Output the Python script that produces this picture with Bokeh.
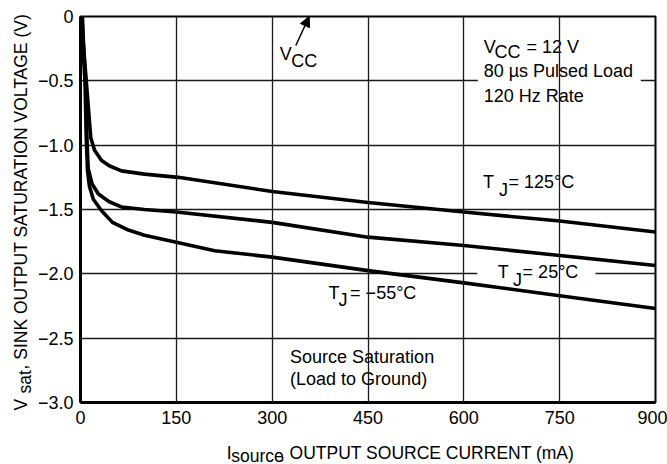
import math
from bokeh.plotting import figure
from bokeh.layouts import row, column
from bokeh.models import Range1d, Label, FixedTicker, Arrow, NormalHead, BoxAnnotation
from bokeh.embed import file_html
from bokeh.resources import INLINE

# ---- data ----
i_125 = [3, 5, 9, 16, 22, 33, 45, 64, 100, 153, 300, 450, 600, 750, 900]
v_125 = [0.0, -0.25, -0.5, -0.94, -1.04, -1.12, -1.16, -1.2, -1.225, -1.25, -1.36, -1.445, -1.52, -1.59, -1.675]

i_25 = [2, 5, 8, 10, 12, 18, 28, 45, 64, 100, 150, 300, 450, 600, 750, 900]
v_25 = [0.0, -0.25, -0.5, -0.94, -1.18, -1.3, -1.38, -1.44, -1.48, -1.5, -1.52, -1.6, -1.715, -1.78, -1.857, -1.935]

i_m55 = [1, 4, 7, 9, 11, 14, 20, 33, 50, 75, 100, 150, 210, 300, 450, 600, 750, 900]
v_m55 = [0.0, -0.25, -0.5, -0.94, -1.2, -1.32, -1.42, -1.51, -1.6, -1.66, -1.7, -1.755, -1.82, -1.87, -1.975, -2.07, -2.17, -2.27]

x_ticks = [0, 150, 300, 450, 600, 750, 900]
y_ticks = [0, -0.5, -1.0, -1.5, -2.0, -2.5, -3.0]
y_tick_labels = ["0", "\u22120.5", "\u22121.0", "\u22121.5", "\u22122.0", "\u22122.5", "\u22123.0"]

FONT = "Liberation Sans"
FS = "18px"
FS_T = "17.5px"

YT_W = 34      # width of the y-title strip
XT_H = 24      # height of the x-title strip
DY = 0.05      # lift of in-plot labels (data units)

# ---------------- main chart ----------------
p = figure(width=667 - YT_W, height=464 - XT_H, x_range=Range1d(0, 900), y_range=Range1d(-3, 0),
           output_backend="svg", toolbar_location=None, title=None,
           min_border_left=79 - YT_W, min_border_right=12, min_border_top=16,
           min_border_bottom=38)
p.background_fill_color = "white"
p.border_fill_color = "white"
p.outline_line_color = "black"
p.outline_line_width = 2

for ax in (p.xaxis, p.yaxis):
    ax.axis_line_width = 3
    ax.axis_line_color = "black"
    ax.major_tick_in = 0
    ax.major_tick_out = 0
    ax.minor_tick_in = 0
    ax.minor_tick_out = 0
    ax.major_label_text_font = FONT
    ax.major_label_text_font_size = FS
    ax.major_label_text_color = "black"
p.xaxis.major_label_standoff = 8
p.yaxis.major_label_standoff = 7

p.xaxis.ticker = FixedTicker(ticks=x_ticks)
p.yaxis.ticker = FixedTicker(ticks=y_ticks)
p.yaxis.major_label_overrides = {t: l for t, l in zip(y_ticks, y_tick_labels)}

p.xgrid.ticker = FixedTicker(ticks=x_ticks)
p.ygrid.ticker = FixedTicker(ticks=y_ticks)
for g in (p.xgrid, p.ygrid):
    g.grid_line_color = "#1a1a1a"
    g.grid_line_width = 1.3
    g.grid_line_alpha = 1
p.xgrid.level = "overlay"

# white boxes that interrupt horizontal grid lines behind text
p.add_layout(BoxAnnotation(left=622, right=877, top=-0.13, bottom=-0.715,
                           fill_color="white", fill_alpha=1, line_color=None, level="underlay"))
p.add_layout(BoxAnnotation(left=621, right=806, top=-1.9, bottom=-2.15,
                           fill_color="white", fill_alpha=1, line_color=None, level="underlay"))

for xs, ys in ((i_125, v_125), (i_25, v_25), (i_m55, v_m55)):
    p.line(xs, ys, line_width=3.6, line_color="black", line_join="round")


def lab(fig, x, y, t, align="left", angle=0, size=FS):
    fig.add_layout(Label(x=x, y=y, text=t, text_font=FONT, text_font_size=size,
                         text_color="black", text_align=align, text_baseline="alphabetic",
                         angle=angle))


def plab(x, y, t):
    lab(p, x, y + DY, t)


# VCC arrow
p.add_layout(Arrow(end=NormalHead(size=10, fill_color="black", line_color="black"),
                   x_start=337, y_start=-0.225, x_end=358, y_end=0.0,
                   line_width=1.5, line_color="black"))
plab(312, -0.342, "V")
plab(330, -0.396, "CC")

# conditions block
plab(631, -0.288, "V")
plab(648, -0.326, "CC")
plab(698, -0.288, "= 12 V")
plab(631, -0.474, "80 \u00b5s Pulsed Load")
plab(631, -0.668, "120 Hz Rate")

# temperature labels
plab(630, -1.337, "T")
plab(655, -1.40, "J")
plab(670, -1.337, "= 125\u00b0C")

plab(653, -2.036, "T")
plab(677, -2.10, "J")
plab(692, -2.036, "= 25\u00b0C")

plab(388, -2.2, "T")
plab(404, -2.25, "J")
plab(422, -2.2, "= \u221255\u00b0C")

plab(328, -2.697, "Source Saturation")
plab(328, -2.868, "(Load to Ground)")


# ---------------- axis title strips (pixel coordinates) ----------------
def strip(w, h):
    f = figure(width=w, height=h, x_range=Range1d(0, w), y_range=Range1d(0, h),
               x_axis_type=None, y_axis_type=None, output_backend="svg",
               toolbar_location=None, title=None, min_border=0,
               min_border_left=0, min_border_right=0, min_border_top=0, min_border_bottom=0)
    f.outline_line_color = None
    f.background_fill_color = "white"
    f.border_fill_color = "white"
    f.grid.visible = False
    return f


xt = strip(667 - YT_W, XT_H)
lab(xt, 161, 12, "I", size=FS_T)
lab(xt, 166, 9, "source", size=FS_T)
lab(xt, 219.5, 12, ", OUTPUT SOURCE CURRENT (mA)", size=FS_T)

yt = strip(YT_W, 464)
lab(yt, 20, 54, "V", angle=math.pi / 2, size=FS_T)
lab(yt, 24, 71, "sat", angle=math.pi / 2, size=FS_T)
lab(yt, 20, 95, ", SINK OUTPUT SATURATION VOLTAGE (V)", angle=math.pi / 2, size=FS_T)

layout = row(yt, column(p, xt))

open("out.html", "w").write(file_html(layout, INLINE))
